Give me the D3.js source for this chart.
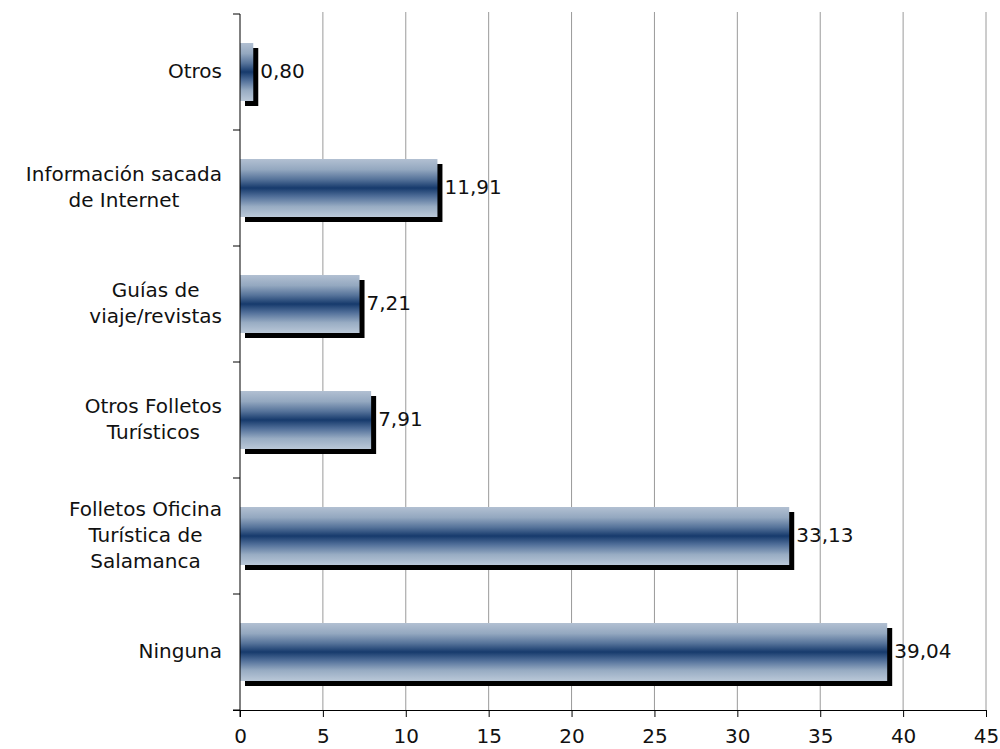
<!DOCTYPE html>
<html><head><meta charset="utf-8">
<script src="https://cdn.jsdelivr.net/npm/d3@7"></script>
<style>body{margin:0;background:#fff}svg{display:block}</style>
</head><body>
<script>
const categories = [
  ["Otros"],
  ["Información sacada", "de Internet"],
  ["Guías de", "viaje/revistas"],
  ["Otros Folletos", "Turísticos"],
  ["Folletos Oficina", "Turística de", "Salamanca"],
  ["Ninguna"]
];
const values = [0.80, 11.91, 7.21, 7.91, 33.13, 39.04];
const valueLabels = ["0,80", "11,91", "7,21", "7,91", "33,13", "39,04"];
const xTicks = [0, 5, 10, 15, 20, 25, 30, 35, 40, 45];

const W = 1000, H = 749;
const m = {left: 240, right: 14, top: 14, bottom: 39};
const svg = d3.select("body").append("svg").attr("width", W).attr("height", H);
const font = "DejaVu Sans, Verdana, sans-serif";
const fs = 20;

const x = d3.scaleLinear().domain([0, 45]).range([m.left, W - m.right]);
const y = d3.scaleBand().domain(d3.range(categories.length)).range([m.top, H - m.bottom]).paddingInner(0.5).paddingOuter(0.25);
const yOuter = d3.scaleBand().domain(d3.range(categories.length)).range([m.top, H - m.bottom]);

const defs = svg.append("defs");
const g = defs.append("linearGradient").attr("id", "barGrad").attr("x1", 0).attr("y1", 0).attr("x2", 0).attr("y2", 1);
[[0, "#b2c0d2"], [0.18, "#94a8c0"], [0.35, "#56739a"], [0.5, "#163a6c"], [0.65, "#52709a"], [0.82, "#98acc3"], [1, "#bac8d8"]]
  .forEach(([o, c]) => g.append("stop").attr("offset", o).attr("stop-color", c));

// gridlines
svg.append("g").selectAll("line").data(xTicks.slice(1)).join("line")
  .attr("x1", d => x(d)).attr("x2", d => x(d))
  .attr("y1", m.top - 2).attr("y2", H - m.bottom)
  .attr("stroke", "#9a9a9a").attr("stroke-width", 1);

// bars: shadow then bar
const bars = svg.append("g");
bars.selectAll("rect.sh").data(values).join("rect").attr("class", "sh")
  .attr("x", x(0) + 5).attr("y", (d, i) => y(i) + 5)
  .attr("width", d => x(d) - x(0)).attr("height", y.bandwidth())
  .attr("fill", "#000");
bars.selectAll("rect.bar").data(values).join("rect").attr("class", "bar")
  .attr("x", x(0)).attr("y", (d, i) => y(i))
  .attr("width", d => x(d) - x(0)).attr("height", y.bandwidth())
  .attr("fill", "url(#barGrad)");

// value labels
svg.append("g").selectAll("text").data(values).join("text")
  .attr("x", d => x(d) + 7).attr("y", (d, i) => y(i) + y.bandwidth() / 2 + 6)
  .attr("font-family", font).attr("font-size", fs).attr("fill", "#111")
  .text((d, i) => valueLabels[i]);

// x axis
const xAxis = d3.axisBottom(x).tickValues(xTicks).tickSize(7).tickPadding(12).tickFormat(d3.format("d"));
const xa = svg.append("g").attr("transform", `translate(0,${H - m.bottom})`).call(xAxis);
xa.select(".domain").attr("d", `M${m.left - 7},0.5H${W - m.right}`).attr("stroke", "#000");
xa.selectAll("line").attr("stroke", "#000");
xa.selectAll("text").attr("font-family", font).attr("font-size", fs).attr("fill", "#111");

// y axis line and boundary ticks
svg.append("line").attr("x1", m.left).attr("x2", m.left).attr("y1", m.top).attr("y2", H - m.bottom + 7).attr("stroke", "#000");
svg.append("g").selectAll("line").data(d3.range(categories.length + 1)).join("line")
  .attr("x1", m.left - 7).attr("x2", m.left)
  .attr("y1", i => m.top + i * yOuter.step()).attr("y2", i => m.top + i * yOuter.step())
  .attr("stroke", "#000");

// category labels (block right-aligned, lines centered in block)
const lab = svg.append("g");
const lineH = 26;
categories.forEach((lines, i) => {
  const cy = yOuter(i) + yOuter.bandwidth() / 2;
  const t = lab.append("text").attr("font-family", font).attr("font-size", fs).attr("fill", "#111");
  const widths = lines.map(l => { const s = t.append("tspan").text(l); const w = s.node().getComputedTextLength(); s.remove(); return w; });
  const maxW = d3.max(widths);
  const cx = 222 - maxW / 2;
  const y0 = cy - (lines.length - 1) * lineH / 2 + 6;
  lines.forEach((l, k) => {
    t.append("tspan").attr("x", cx).attr("y", y0 + k * lineH).attr("text-anchor", "middle").text(l);
  });
});
</script>
</body></html>
